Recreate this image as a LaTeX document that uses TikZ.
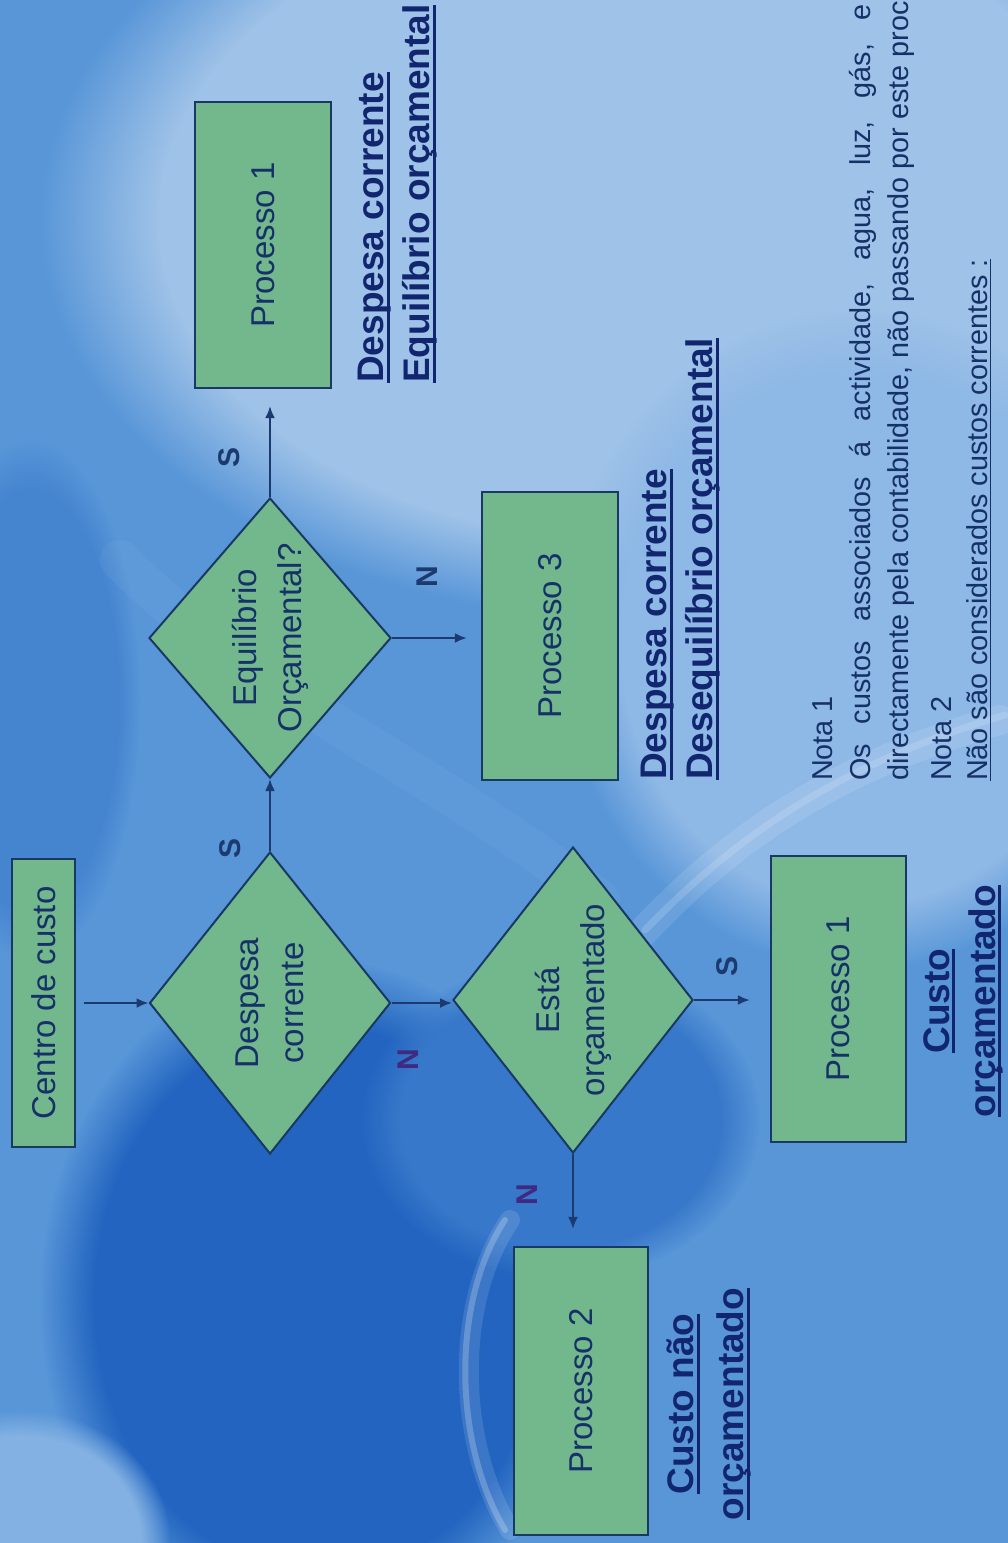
\documentclass[tikz,border=0pt]{standalone}
\usepackage{fontspec}
\setmainfont{Liberation Sans}
\usetikzlibrary{shapes.geometric,arrows.meta,fadings}

\definecolor{bgbase}{RGB}{88,150,216}
\definecolor{bglight}{RGB}{158,194,232}
\definecolor{bgpale}{RGB}{142,184,230}
\definecolor{bgdark}{RGB}{34,100,192}
\definecolor{boxgreen}{RGB}{114,184,140}
\definecolor{boxedge}{RGB}{24,58,98}
\definecolor{ink}{RGB}{22,48,104}
\definecolor{flow}{RGB}{28,58,112}
\definecolor{nolabel}{RGB}{62,42,128}
\definecolor{head}{RGB}{18,38,112}

% underlined text with a rule of chosen thickness and drop
\newsavebox\ulinebox
\newcommand\ulined[3][2.6pt]{\sbox\ulinebox{#3}\rlap{\rule[-#2]{\wd\ulinebox}{#1}}\usebox\ulinebox}

\tikzset{
  procbox/.style={draw=boxedge, line width=2.2pt, fill=boxgreen, rotate=90,
    inner sep=0pt, text=ink, font=\fontsize{33}{40}\selectfont},
  decision/.style={diamond, draw=boxedge, line width=2pt, fill=boxgreen, rotate=90,
    inner sep=-15pt, text=ink, align=center, font=\fontsize{33}{45}\selectfont},
  flowarrow/.style={draw=flow, line width=2.2pt, -{Latex[length=12pt,width=10pt]}},
  yn/.style={rotate=90, font=\fontsize{30}{30}\selectfont\bfseries, text=flow, inner sep=0pt},
  headtext/.style={rotate=90, font=\fontsize{37}{46}\selectfont\bfseries, text=head, inner sep=0pt},
  notetext/.style={rotate=90, font=\fontsize{28.8}{34}\selectfont, text=ink, inner sep=0pt, anchor=west},
  swoosh/.style={white, line cap=round},
}

\begin{document}
\begin{tikzpicture}[x=1pt, y=-1pt]
\useasboundingbox (0,0) rectangle (1008,1543);
\clip (0,0) rectangle (1008,1543);

% background
\fill[bgbase] (0,0) rectangle (1008,1543);
\fill[bglight, path fading=circle with fuzzy edge 20 percent] (640,220) ellipse (600pt and 400pt);
\fill[bgpale, path fading=circle with fuzzy edge 20 percent] (860,640) ellipse (300pt and 330pt);
\fill[bgdark, path fading=circle with fuzzy edge 20 percent] (320,1300) ellipse (280pt and 340pt);
\fill[bgdark!60!bgbase, path fading=circle with fuzzy edge 20 percent] (560,1120) ellipse (200pt and 160pt);
\fill[bgdark!35!bgbase, path fading=circle with fuzzy edge 20 percent] (30,700) ellipse (110pt and 260pt);
\fill[bgpale!80!bgbase, path fading=circle with fuzzy edge 20 percent] (20,1540) ellipse (150pt and 130pt);

% light swooshes
\draw[swoosh, opacity=0.12, line width=20pt] (510,1220) .. controls (455,1300) and (455,1440) .. (510,1530);
\draw[swoosh, opacity=0.22, line width=6pt] (505,1220) .. controls (452,1300) and (452,1440) .. (505,1530);
\draw[swoosh, opacity=0.11, line width=30pt] (640,935) .. controls (720,850) and (820,770) .. (1000,720);
\draw[swoosh, opacity=0.15, line width=7pt] (645,930) .. controls (725,848) and (825,768) .. (1005,715);
\draw[swoosh, opacity=0.04, line width=40pt] (120,560) .. controls (260,700) and (420,760) .. (600,900);

% flow chart nodes
\node[procbox, minimum width=288pt, minimum height=63pt] (ctr) at (43.5,1003) {Centro de custo};
\node[decision, minimum width=302pt, minimum height=241pt, shape aspect=1.25] (dc) at (270,1003) {Despesa\\corrente};
\node[decision, minimum width=280pt, minimum height=242pt, shape aspect=1.157] (eq) at (270,638) {Equilíbrio\\Orçamental?};
\node[decision, minimum width=306pt, minimum height=240pt, shape aspect=1.275] (es) at (573,1000) {Está\\orçamentado};
\node[procbox, minimum width=286pt, minimum height=136pt] (p1a) at (263,245) {Processo 1};
\node[procbox, minimum width=288pt, minimum height=136pt] (p3) at (550,636) {Processo 3};
\node[procbox, minimum width=286pt, minimum height=135pt] (p1b) at (838.5,999) {Processo 1};
\node[procbox, minimum width=288pt, minimum height=134pt] (p2) at (581,1391) {Processo 2};

% connectors
\draw[flowarrow, shorten <=8pt] (ctr.south |- dc.north) -- (dc.north);
\draw[flowarrow] (dc.east) -- (eq.west);
\draw[flowarrow, shorten >=17pt] (eq.east) -- (eq.east |- p1a.west);
\draw[flowarrow, shorten >=14pt] (eq.south) -- (eq.south -| p3.north);
\draw[flowarrow] (dc.south) -- (dc.south -| es.north);
\draw[flowarrow, shorten >=20pt] (es.south) -- (es.south -| p1b.north);
\draw[flowarrow, shorten >=17pt] (es.west) -- (es.west |- p2.east);

% answer labels
\node[yn] (s1) at (229,457) {S};
\node[yn] (n1) at (427,577) {N};
\node[yn] (s2) at (230,848) {S};
\node[yn, text=nolabel] (n2) at (408,1060) {N};
\node[yn] (s3) at (727,966) {S};
\node[yn, text=nolabel] (n3) at (527,1195) {N};

% outcome headings
\node[headtext, anchor=west, align=left] (h1) at (398,383)
  {\ulined{6pt}{Despesa corrente}\\\ulined{6pt}{Equilíbrio orçamental}};
\node[headtext, anchor=west, align=left] (h2) at (681,780)
  {\ulined{6pt}{Despesa corrente}\\\ulined{6pt}{Desequilíbrio orçamental}};
\node[headtext, align=center, font=\fontsize{37}{50}\selectfont\bfseries] (h3) at (709,1404)
  {\ulined{6pt}{Custo não}\\\ulined{6pt}{orçamentado}};
\node[headtext, align=center] (h4) at (963,1001)
  {\ulined{6pt}{Custo}\\\ulined{6pt}{orçamentado}};

% notes
\node[notetext] (nota1) at (823,781) {Nota 1};
\node[notetext] (l1) at (863,781) {\makebox[776pt][s]{Os custos associados á actividade, agua, luz, gás, e}};
\node[notetext] (l2) at (901,781) {directamente pela contabilidade, não passando por este proc};
\node[notetext] (nota2) at (942,781) {Nota 2};
\node[notetext] (l3) at (979,781) {\ulined[1.6pt]{4pt}{Não são considerados custos correntes :}};
\end{tikzpicture}
\end{document}
